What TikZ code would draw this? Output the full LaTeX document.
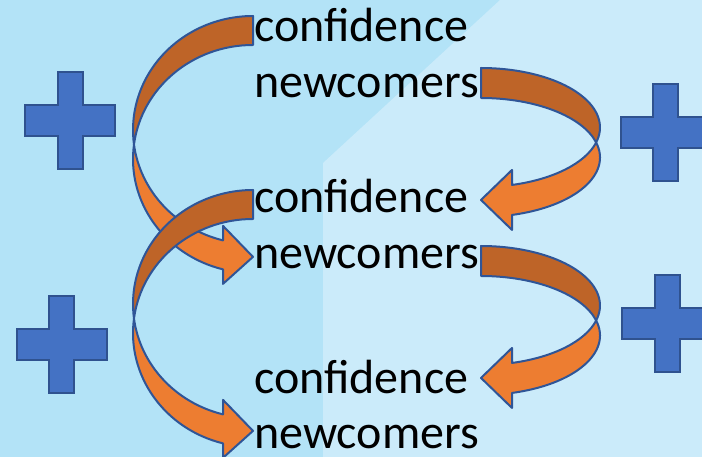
\documentclass[tikz,border=0pt]{standalone}
\usepackage{fontspec}
\setmainfont{Carlito}
\usepackage{tikz}
\definecolor{bgleft}{HTML}{B3E3F7}
\definecolor{bgright}{HTML}{CBEBFA}
\definecolor{arrowfront}{HTML}{ED7D31}
\definecolor{arrowback}{HTML}{BE6428}
\definecolor{arrowline}{HTML}{2F5597}
\definecolor{plusfill}{HTML}{4472C4}
\definecolor{plusline}{HTML}{2F528F}

\begin{document}
\begin{tikzpicture}[x=1pt,y=-1pt,
		word/.style={anchor=base west,inner sep=0pt,text depth=0pt,font=\fontsize{48}{56}\selectfont},
		back/.style={fill=arrowback,draw=arrowline,line width=2pt,line join=round},
		front/.style={fill=arrowfront,draw=arrowline,line width=2pt,line join=round},
		plus/.style={fill=plusfill,draw=plusline,line width=2pt}]
			\useasboundingbox (0,0) rectangle (702,457);
			\fill[bgleft] (0,0) rectangle (702,457);
			\fill[bgright] (500,0) -- (323,163) -- (323,457) -- (702,457) -- (702,0) -- cycle;
			
			% words
			
			\node[word] (conf1) at (254,42) {confidence};
			\node[word] (new1) at (254,98) {newcomers};
			\node[word] (conf2) at (254,213) {confidence};
			\node[word] (new2) at (254,269) {newcomers};
			\node[word] (conf3) at (254,393) {confidence};
			\node[word] (new3) at (254,448) {newcomers};
			
			% plus signs
			
			\foreach \px/\py in {70/120.5,665.5/132.5,61.5/344.5,667/323.5} {
				\begin{scope}[shift={(\px,\py)}]
					\filldraw[plus] (-12.5,-48.5) -- (12.5,-48.5) -- (12.5,-15.5) -- (45,-15.5)
						-- (45,15.5) -- (12.5,15.5) -- (12.5,48.5) -- (-12.5,48.5) -- (-12.5,15.5)
						-- (-45,15.5) -- (-45,-15.5) -- (-12.5,-15.5) -- cycle;
				\end{scope}
			}
			
			% left arrows
			
			\pgfmathsetmacro{\al}{asin(14.5/114)}
			\pgfmathsetmacro{\be}{asin(30/120)}
			\pgfmathsetmacro{\yc}{114*cos(\be)+14.5}
			\foreach \cy in {130,304} {
				\begin{scope}[shift={(253,\cy)}]
					\filldraw[back] (0,-114) arc[start angle=270,end angle={180-\al},x radius=120,y radius=114]
						arc[start angle={180+\al},end angle=270,x radius=120,y radius=114] -- cycle;
					\filldraw[front] ({-120*cos(\al)},14.5) arc[start angle={180+\al},end angle={90+\be},x radius=120,y radius=114]
						-- (-30,\yc+29) -- (0,\yc+2) -- (-30,\yc-29) -- (-30,{114*cos(\be)})
						arc[start angle={90+\be},end angle={180-\al},x radius=120,y radius=114] -- cycle;
				\end{scope}
			}
			
			% right arrows
			
			\pgfmathsetmacro{\al}{asin(15/59.5)}
			\pgfmathsetmacro{\be}{asin(31/119)}
			\pgfmathsetmacro{\yc}{59.5*cos(\be)+15}
			\foreach \cy in {127.5,305.5} {
				\begin{scope}[shift={(481,\cy)},xscale=-1]
					\filldraw[back] (0,-59.5) arc[start angle=270,end angle={180-\al},x radius=119,y radius=59.5]
						arc[start angle={180+\al},end angle=270,x radius=119,y radius=59.5] -- cycle;
					\filldraw[front] ({-119*cos(\al)},15) arc[start angle={180+\al},end angle={90+\be},x radius=119,y radius=59.5]
						-- (-31,\yc+30) -- (0,\yc) -- (-31,\yc-30) -- (-31,{59.5*cos(\be)})
						arc[start angle={90+\be},end angle={180-\al},x radius=119,y radius=59.5] -- cycle;
				\end{scope}
			}
		\end{tikzpicture}
\end{document}
